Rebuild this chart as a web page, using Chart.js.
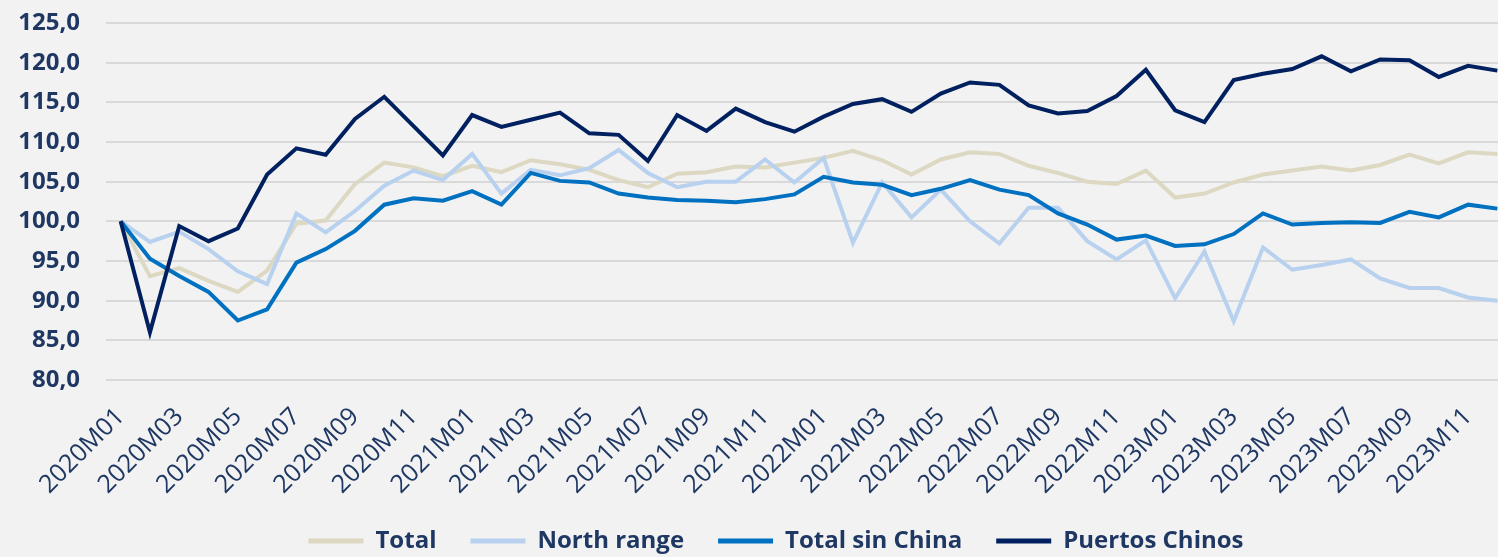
<!DOCTYPE html>
<html>
<head>
<meta charset="utf-8">
<script src="https://cdn.jsdelivr.net/npm/chart.js@4.4.1/dist/chart.umd.min.js"></script>
<style>
  html, body { margin: 0; padding: 0; background: #f2f2f2; overflow: hidden; }
  /* el gráfico original está recortado a la derecha */
  #wrap { width: 1512px; height: 557px; position: relative; }
</style>
</head>
<body>
<div id="wrap"><canvas id="myLineChart"></canvas></div>
<script>
// meses (2020M01 - 2023M12)
const months = [
  "2020M01", "2020M02", "2020M03", "2020M04", "2020M05", "2020M06",
  "2020M07", "2020M08", "2020M09", "2020M10", "2020M11", "2020M12",
  "2021M01", "2021M02", "2021M03", "2021M04", "2021M05", "2021M06",
  "2021M07", "2021M08", "2021M09", "2021M10", "2021M11", "2021M12",
  "2022M01", "2022M02", "2022M03", "2022M04", "2022M05", "2022M06",
  "2022M07", "2022M08", "2022M09", "2022M10", "2022M11", "2022M12",
  "2023M01", "2023M02", "2023M03", "2023M04", "2023M05", "2023M06",
  "2023M07", "2023M08", "2023M09", "2023M10", "2023M11", "2023M12",
];

// series
const total = [
  100, 93.1, 94.1, 92.5, 91.1, 93.8, 99.7, 100.1, 104.7, 107.4, 106.8, 105.7,
  107.0, 106.2, 107.7, 107.2, 106.5, 105.2, 104.3, 106.0, 106.2, 106.9, 106.8, 107.4,
  108.0, 108.9, 107.7, 105.9, 107.8, 108.7, 108.5, 107.0, 106.1, 105.0, 104.7, 106.4,
  103.0, 103.5, 104.9, 105.9, 106.4, 106.9, 106.4, 107.1, 108.4, 107.3, 108.7, 108.5,
];
const northRange = [
  100, 97.4, 98.7, 96.5, 93.7, 92.1, 101.0, 98.6, 101.3, 104.5, 106.4, 105.2,
  108.5, 103.5, 106.5, 105.8, 106.7, 109.0, 106.1, 104.3, 105.0, 105.0, 107.8, 104.9,
  108.0, 97.3, 104.9, 100.5, 104.0, 100.0, 97.2, 101.7, 101.7, 97.5, 95.2, 97.6,
  90.3, 96.2, 87.4, 96.7, 93.9, 94.5, 95.2, 92.8, 91.6, 91.6, 90.4, 90.0,
];
const totalSinChina = [
  100, 95.3, 93.1, 91.1, 87.5, 88.9, 94.8, 96.5, 98.8, 102.1, 102.9, 102.6,
  103.8, 102.1, 106.1, 105.1, 104.9, 103.5, 103.0, 102.7, 102.6, 102.4, 102.8, 103.4,
  105.6, 104.9, 104.6, 103.3, 104.1, 105.2, 104.0, 103.3, 101.0, 99.6, 97.7, 98.2,
  96.9, 97.1, 98.4, 101.0, 99.6, 99.8, 99.9, 99.8, 101.2, 100.5, 102.1, 101.6,
];
const puertosChinos = [
  100, 86.0, 99.4, 97.5, 99.1, 105.9, 109.2, 108.4, 112.9, 115.7, 112.0, 108.3,
  113.4, 111.9, 112.8, 113.7, 111.1, 110.9, 107.6, 113.4, 111.4, 114.2, 112.5, 111.3,
  113.2, 114.8, 115.4, 113.8, 116.1, 117.5, 117.2, 114.6, 113.6, 113.9, 115.8, 119.1,
  114.0, 112.5, 117.8, 118.6, 119.2, 120.8, 118.9, 120.4, 120.3, 118.2, 119.6, 119.0,
];

const textColor = "#1f3763";

function serie(label, data, color, order) {
  return {
    label: label,
    data: data,
    borderColor: color,
    backgroundColor: color,
    borderWidth: 4,
    pointRadius: 0,
    tension: 0,
    order: order,
  };
}

// mueve la leyenda (derecha y arriba), como en el original
const legendShift = {
  id: "legendShift",
  afterLayout(chart) {
    if (chart.legend) {
      chart.legend.left += 20;
      chart.legend.right += 20;
      chart.legend.top -= 10;
      chart.legend.bottom -= 10;
    }
  },
};

const ctx = document.getElementById("myLineChart").getContext("2d");
const myLineChart = new Chart(ctx, {
  type: "line",
  data: {
    labels: months,
    datasets: [
      serie("Total", total, "#dcd8c2", 4),
      serie("North range", northRange, "#b8d1ef", 3),
      serie("Total sin China", totalSinChina, "#0070c0", 2),
      serie("Puertos Chinos", puertosChinos, "#002060", 1),
    ],
  },
  plugins: [legendShift],
  options: {
    responsive: true,
    maintainAspectRatio: false,
    animation: false,
    layout: {
      padding: { top: 23, right: 0, bottom: -16, left: 0 },
    },
    scales: {
      x: {
        offset: true,
        grid: { display: false },
        border: { display: false },
        // altura fija del eje, sin relleno lateral
        afterFit: function (scale) {
          scale.height = 125;
          scale.paddingLeft = 0;
          scale.paddingRight = 0;
        },
        ticks: {
          autoSkip: false,
          minRotation: 45,
          maxRotation: 45,
          padding: 14,
          color: textColor,
          font: { family: "Open Sans", size: 25 },
          callback: function (value, index) {
            return index % 2 === 0 ? months[index] : "";
          },
        },
      },
      y: {
        min: 80,
        max: 125,
        grid: { color: "#d9d9d9", lineWidth: 2, drawTicks: false },
        border: { display: false },
        afterFit: function (scale) {
          scale.width = 106;
          scale.paddingTop = 0;
          scale.paddingBottom = 0;
        },
        ticks: {
          stepSize: 5,
          padding: 26,
          color: textColor,
          font: { family: "Open Sans", size: 24, weight: "bold" },
          callback: function (value) {
            return value.toFixed(1).replace(".", ",");
          },
        },
      },
    },
    plugins: {
      tooltip: { enabled: false },
      legend: {
        position: "bottom",
        labels: {
          boxWidth: 55,
          boxHeight: 5,
          padding: 34,
          color: textColor,
          font: { family: "Open Sans", size: 24, weight: "bold" },
          sort: (a, b) => a.datasetIndex - b.datasetIndex,
          generateLabels: function (chart) {
            return Chart.defaults.plugins.legend.labels
              .generateLabels(chart)
              .map((l) => ({ ...l, lineWidth: 0 }));
          },
        },
      },
    },
  },
});
</script>
</body>
</html>
